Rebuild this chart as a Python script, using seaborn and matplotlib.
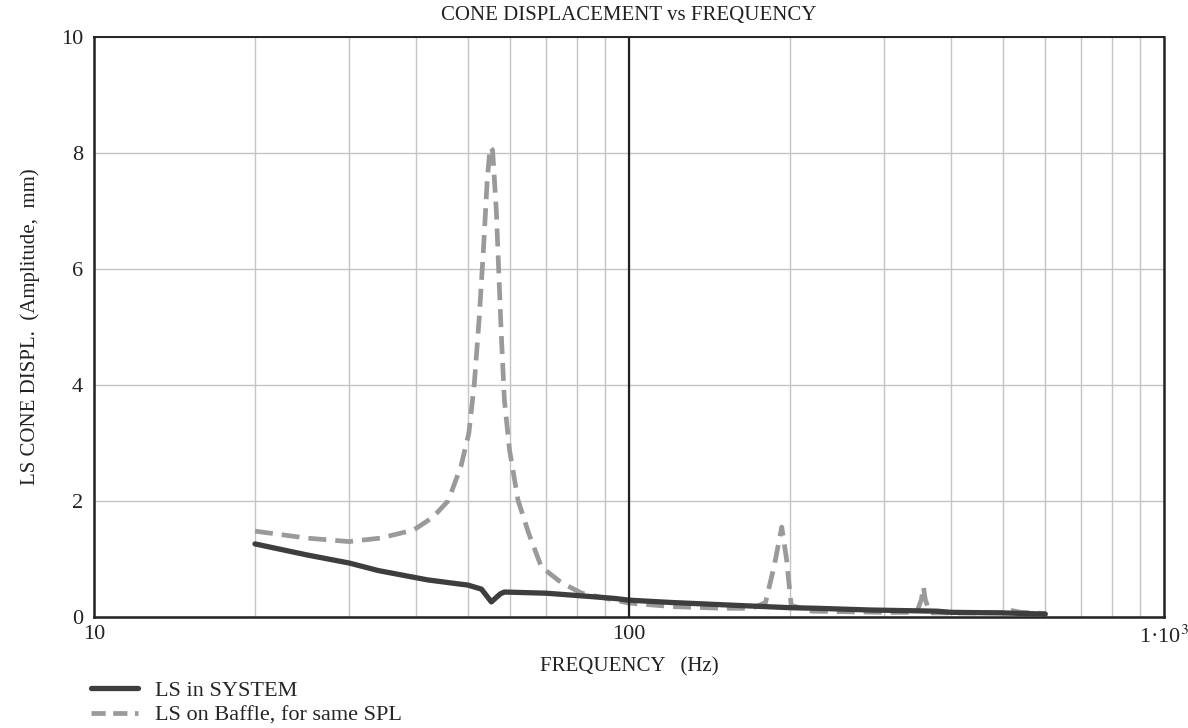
import numpy as np
import pandas as pd
import matplotlib
matplotlib.use("Agg")
import matplotlib.pyplot as plt
from matplotlib.lines import Line2D
from matplotlib.ticker import LogLocator, FixedLocator, NullFormatter
import seaborn as sns

# ---- data ----
sys_freq = [20, 25, 30, 34, 42, 48, 50, 53, 55.3, 57.5, 58.5, 70, 80, 94, 100,
            120, 150, 200, 224, 283, 376, 400, 500, 600]
sys_disp = [1.26, 1.07, 0.93, 0.80, 0.64, 0.57, 0.55, 0.48, 0.26, 0.40, 0.43, 0.41,
            0.37, 0.32, 0.29, 0.25, 0.21, 0.16, 0.15, 0.12, 0.10, 0.08, 0.07, 0.05]

baf_freq = [20, 25, 30, 34.3, 39.6, 43, 45.9, 48.5, 50.2, 51.4, 52.5, 53.5, 54.3,
            55.0, 55.6, 56.5, 57.7, 58.5, 59.8, 62, 64.9, 68.6, 74.8, 81.6, 94,
            100, 120, 150, 170, 180, 187, 193, 197, 201, 220, 300, 345, 352, 355,
            358, 365, 450, 510, 520, 540, 600]
baf_disp = [1.48, 1.36, 1.30, 1.36, 1.50, 1.72, 2.00, 2.59, 3.17, 4.03, 5.17, 6.40,
            7.50, 8.10, 8.05, 7.00, 4.90, 3.74, 2.88, 2.02, 1.45, 0.86, 0.59, 0.41,
            0.29, 0.24, 0.18, 0.15, 0.15, 0.25, 0.90, 1.55, 1.00, 0.20, 0.10, 0.08,
            0.08, 0.30, 0.52, 0.30, 0.07, 0.07, 0.08, 0.11, 0.08, 0.06]

series_names = ["LS in SYSTEM", "LS on Baffle, for same SPL"]
x_tick_vals = [10, 100, 1000]
x_tick_labels = ["10", "100", "1·10$^{3}$"]
y_tick_vals = [0, 2, 4, 6, 8, 10]

# ---- style ----
sns.set_theme(style="white")
plt.rcParams["font.family"] = ["Liberation Serif", "DejaVu Serif"]
plt.rcParams["mathtext.fontset"] = "stix"

fig = plt.figure(figsize=(11.88, 7.28), dpi=100)
ax = fig.add_axes([0.0791, 0.1525, 0.9007, 0.7967])

SOLID_C = "#3e3e3e"
DASH_C = "#9a9a9a"

df_sys = pd.DataFrame({"f": sys_freq, "d": sys_disp})
df_baf = pd.DataFrame({"f": baf_freq, "d": baf_disp})

sns.lineplot(data=df_baf, x="f", y="d", ax=ax, color=DASH_C, lw=3.4,
             sort=False, estimator=None, zorder=3)
ax.lines[-1].set_dashes((3.8, 1.9))
sns.lineplot(data=df_sys, x="f", y="d", ax=ax, color=SOLID_C, lw=3.8,
             sort=False, estimator=None, zorder=4)

ax.set_xscale("log")
ax.set_xlim(10, 1000)
ax.set_ylim(0, 10)

ax.xaxis.set_major_locator(FixedLocator(x_tick_vals))
ax.set_xticklabels(x_tick_labels)
ax.xaxis.set_minor_locator(LogLocator(base=10, subs=np.arange(2, 10)))
ax.xaxis.set_minor_formatter(NullFormatter())
ax.set_yticks(y_tick_vals)
ax.set_yticklabels([str(v) for v in y_tick_vals])

ax.grid(True, which="both", axis="x", color="#c4c4c4", lw=1.0)
ax.grid(True, which="major", axis="y", color="#c4c4c4", lw=1.0)
ax.axvline(100, color="#222222", lw=1.6, zorder=5)

for s in ax.spines.values():
    s.set_visible(True)
    s.set_color("#222222")
    s.set_linewidth(1.8)
ax.spines["top"].set_linewidth(1.4)

ax.tick_params(axis="both", which="both", length=0, labelsize=16, colors="#222222")
ax.tick_params(axis="x", pad=6)
ax.tick_params(axis="y", pad=8)

ax.set_xlabel("FREQUENCY   (Hz)", fontsize=15, color="#222222", labelpad=7)
ax.set_ylabel("LS CONE DISPL.  (Amplitude,  mm)", fontsize=15, color="#222222")
ax.yaxis.set_label_coords(-0.05, 0.5)
ax.set_title("CONE DISPLACEMENT vs FREQUENCY", fontsize=15, color="#222222", pad=12)

handles = [Line2D([0], [0], color=SOLID_C, lw=3.8),
           Line2D([0], [0], color=DASH_C, lw=3.4, dashes=(3.0, 1.6))]
fig.legend(handles, series_names, loc="upper left", bbox_to_anchor=(0.077, 0.066),
           frameon=False, fontsize=16, handlelength=2.1, handletextpad=0.75,
           labelspacing=0.2, borderaxespad=0, borderpad=0)

fig.savefig("out.png", dpi=100, facecolor="white")
